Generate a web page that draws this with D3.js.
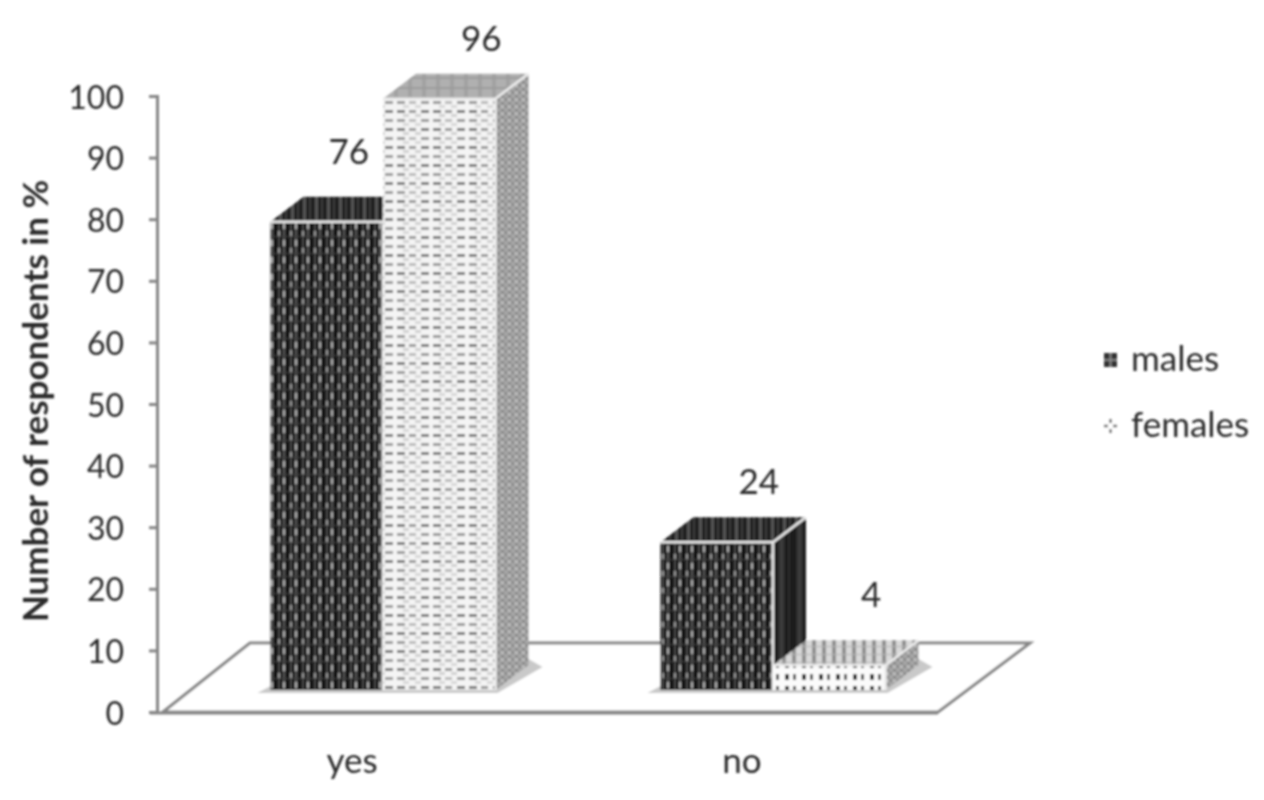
<!DOCTYPE html>
<html>
<head>
<meta charset="utf-8">
<script src="https://cdn.jsdelivr.net/npm/d3@7"></script>
<style>
    html, body { margin: 0; background: #fff; }
    svg { display: block; font-family: Lato, sans-serif; }
    text { fill: #2b2b2b; }
</style>
</head>
<body>
<svg id="chart"></svg>
<script>
const categories = ['yes', 'no'];
const seriesNames = ['males', 'females'];
const males = [76, 24];
const females = [96, 4];
const yTicks = [0, 10, 20, 30, 40, 50, 60, 70, 80, 90, 100];
const yTitle = 'Number of respondents in %';

const width = 1264;
const height = 800;
const baseShift = 22;   // bars stand on the floor, above the axis zero
const depthX = 33;
const depthY = -25;

let svg = d3.select('#chart')
    .attr('width', width)
    .attr('height', height);

let y = d3.scaleLinear().domain([0, 100]).range([712, 96]);
let x = d3.scaleBand().domain(categories).range([188, 968]).paddingInner(0.423).paddingOuter(0.2115);
let xSeries = d3.scaleBand().domain(seriesNames).range([0, x.bandwidth()]);

let defs = svg.append('defs');

defs.append('filter').attr('id', 'soft')
    .attr('filterUnits', 'userSpaceOnUse')
    .attr('x', 0).attr('y', 0).attr('width', width).attr('height', height)
    .append('feGaussianBlur').attr('stdDeviation', 1);

function makePattern(id, w, h, bg, rects) {
    let p = defs.append('pattern').attr('id', id)
        .attr('patternUnits', 'userSpaceOnUse')
        .attr('width', w).attr('height', h);
    p.append('rect').attr('width', w).attr('height', h).attr('fill', bg);
    rects.forEach(r => p.append('rect')
        .attr('x', r[0]).attr('y', r[1]).attr('width', r[2]).attr('height', r[3]).attr('fill', r[4]));
}

// dark front, vertical stripes broken up by short lighter bits
makePattern('malesFront', 12, 17, '#141414', [
    [2, 0, 2, 17, '#444'],
    [7, 0, 2, 17, '#555'],
    [7, 2, 2, 6, '#b0b0b0'],
    [2, 10, 2, 5, '#999'],
    [0, 15, 12, 1, '#3c3c3c']
]);
makePattern('malesTop', 12, 25, '#1c1c1c', [
    [3, 0, 3, 25, '#555'],
    [9, 0, 2, 25, '#3c3c3c']
]);
makePattern('malesSide', 18, 20, '#1a1a1a', [
    [5, 0, 5, 20, '#3a3a3a'],
    [14, 0, 2, 20, '#2c2c2c']
]);
// light front, rows of small grey dashes
makePattern('femalesFront', 36, 18, '#f4f4f4', [
    [1, 2, 8, 3, '#777'],
    [13, 2, 7, 3, '#999'],
    [25, 2, 8, 3, '#777'],
    [7, 6, 6, 3, '#d2d2d2'],
    [19, 6, 6, 3, '#d2d2d2'],
    [1, 11, 8, 3, '#9a9a9a'],
    [13, 11, 7, 3, '#bbb'],
    [25, 11, 8, 3, '#9a9a9a'],
    [7, 15, 6, 3, '#d8d8d8'],
    [19, 15, 6, 3, '#d8d8d8']
]);
makePattern('femalesTop', 14, 10, '#b0b0b0', [
    [2, 0, 4, 10, '#a2a2a2'],
    [0, 7, 14, 2, '#9c9c9c']
]);
makePattern('femalesSide', 7, 7, '#a6a6a6', [
    [0, 0, 3, 3, '#8a8a8a'],
    [4, 4, 3, 3, '#8a8a8a'],
    [4, 0, 3, 3, '#bcbcbc']
]);
// the low bar shows only a couple of rows of black dots
makePattern('femalesLowFront', 17, 12, '#fbfbfb', [
    [3, 2, 4, 6, '#111'],
    [11, 2, 3, 6, '#444']
]);
makePattern('femalesLowTop', 10, 8, '#d8d8d8', [
    [2, 0, 4, 8, '#8f8f8f'],
    [0, 6, 10, 1, '#b5b5b5']
]);

let chart = svg.append('g').attr('filter', 'url(#soft)');

// floor
let floorBack = y(0) - 69;
chart.append('path')
    .attr('d', `M163,${y(0)}L250,${floorBack}H1030L938,${y(0)}Z`)
    .attr('fill', '#fff')
    .attr('stroke', '#858585')
    .attr('stroke-width', 3);

// axes
let yAxis = d3.axisLeft(y).tickValues(yTicks).tickSize(8).tickPadding(25);
let yG = chart.append('g').attr('transform', 'translate(157,0)').call(yAxis);
yG.selectAll('path, line').attr('stroke', '#858585').attr('stroke-width', 3);
yG.selectAll('text').attr('font-size', 32).attr('font-family', 'Lato, sans-serif').attr('fill', '#2b2b2b')
    .attr('dy', '0.38em');

chart.append('line')
    .attr('x1', 150).attr('x2', 938)
    .attr('y1', y(0) + 1).attr('y2', y(0) + 1)
    .attr('stroke', '#858585').attr('stroke-width', 3);

let xAxis = d3.axisBottom(x).tickSize(0).tickPadding(36);
let xG = chart.append('g').attr('transform', `translate(${-31},${y(0)})`).call(xAxis);
xG.select('path').remove();
xG.selectAll('text').attr('font-size', 35).attr('font-family', 'Lato, sans-serif').attr('fill', '#2b2b2b');

// bars
let rows = [];
categories.forEach((c, i) => {
    rows.push({ cat: c, series: 'males', value: males[i] });
    rows.push({ cat: c, series: 'females', value: females[i] });
});

function barBox(d) {
    let left = x(d.cat) + xSeries(d.series);
    return {
        x0: left,
        x1: left + xSeries.bandwidth(),
        top: y(d.value) - baseShift,
        base: y(0) - baseShift
    };
}

// shadows on the floor
chart.selectAll('.shadow')
    .data(categories)
    .join('path')
    .attr('class', 'shadow')
    .attr('fill', '#c9c9c9')
    .attr('d', c => {
        let l = x(c), r = x(c) + x.bandwidth(), b = y(0) - baseShift;
        return `M${l - 13},${b + 3}H${r + 2}L${r + depthX + 14},${b + depthY + 2}L${r + depthX},${b + depthY - 6}L${r},${b - 4}H${l}Z`;
    });

let bars = chart.selectAll('.bar')
    .data(rows)
    .join('g')
    .attr('class', 'bar');

bars.append('path')
    .attr('fill', d => `url(#${d.series}Side)`)
    .attr('d', d => {
        let b = barBox(d);
        return `M${b.x1},${b.top}l${depthX},${depthY}V${b.base + depthY}L${b.x1},${b.base}Z`;
    });

bars.append('path')
    .attr('fill', d => d.value < 10 ? 'url(#femalesLowTop)' : `url(#${d.series}Top)`)
    .attr('d', d => {
        let b = barBox(d);
        return `M${b.x0},${b.top}l${depthX},${depthY}H${b.x1 + depthX}L${b.x1},${b.top}Z`;
    });

bars.append('rect')
    .attr('x', d => barBox(d).x0)
    .attr('y', d => barBox(d).top)
    .attr('width', d => barBox(d).x1 - barBox(d).x0)
    .attr('height', d => barBox(d).base - barBox(d).top)
    .attr('fill', d => d.value < 10 ? 'url(#femalesLowFront)' : `url(#${d.series}Front)`);

// white highlight along the front corner
bars.append('path')
    .attr('fill', 'none')
    .attr('stroke', '#ececec')
    .attr('stroke-width', 2.5)
    .attr('d', d => {
        let b = barBox(d);
        return `M${b.x0},${b.top}H${b.x1}V${b.base}M${b.x1},${b.top}l${depthX},${depthY}`;
    });

// value labels
chart.selectAll('.value')
    .data(rows)
    .join('text')
    .attr('class', 'value')
    .attr('font-size', 35)
    .attr('text-anchor', 'middle')
    .attr('x', d => (barBox(d).x0 + barBox(d).x1) / 2 + (d.value === 76 ? 22 : 42))
    .attr('y', d => barBox(d).top - (d.value === 76 || d.value === 4 ? 58 : 48))
    .text(d => d.value);

// y title
chart.append('text')
    .attr('transform', 'translate(48,401) rotate(-90)')
    .attr('text-anchor', 'middle')
    .attr('font-size', 35)
    .attr('font-weight', 700)
    .text(yTitle);

// legend
let legendY = d3.scalePoint().domain(seriesNames).range([371, 437]);
let legend = chart.selectAll('.legend')
    .data(seriesNames)
    .join('g')
    .attr('class', 'legend')
    .attr('transform', d => `translate(1104,${legendY(d)})`);

legend.append('rect')
    .attr('y', -18)
    .attr('width', 13)
    .attr('height', 14)
    .attr('fill', d => d === 'males' ? '#333' : '#fff');

legend.filter(d => d === 'males').append('path')
    .attr('d', 'M6.5,-18V-4M0,-11H13')
    .attr('stroke', '#999').attr('stroke-width', 1.5);

legend.filter(d => d === 'females').append('path')
    .attr('d', 'M6.5,-18v4M6.5,-8v4M0,-11h4M9,-11h4')
    .attr('stroke', '#666').attr('stroke-width', 2.5);

legend.append('text')
    .attr('x', 27)
    .attr('font-size', 35)
    .text(d => d);
</script>
</body>
</html>
